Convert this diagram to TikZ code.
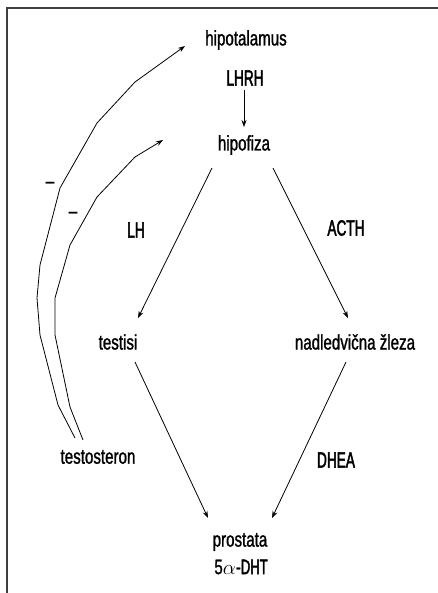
\documentclass[tikz,border=0pt]{standalone}
\usepackage{fontspec}
\setsansfont{Liberation Sans}[FakeStretch=0.72,FakeBold=1.2]
\newfontfamily\narrowsf{Liberation Sans}[FakeStretch=0.62,FakeBold=2]
\usetikzlibrary{arrows.meta}

\begin{document}
\begin{tikzpicture}[x=1pt,y=-1pt,->,>={Stealth[length=7pt,width=5pt]},thick,main node/.style={font=\sffamily\fontsize{21}{24}\selectfont,inner sep=2pt},label node/.style={font=\narrowsf\fontsize{22}{24}\selectfont,inner sep=2pt}]
                \useasboundingbox (0,0) rectangle (438,593);
                \draw[-,line width=1.3pt,black!75] (7,593) -- (7,8) -- (438,8);

                \node[main node] (1) at (246,40) {hipotalamus};
                \node[label node] (lhrh) at (245,78) {LHRH};
                \node[main node] (2) at (244,145) {hipofiza};
                \node[main node] (3) at (118,342) {testisi};
                \node[main node] (4) at (355,342) {nadledvična žleza};
                \node[main node] (5) at (240,542) {prostata};
                \node[main node] (6) at (241,567) {5$\alpha$-{\narrowsf DHT}};
                \node[main node] (7) at (98,457) {testosteron};
                \node[label node] (lh) at (136,230) {LH};
                \node[label node] (acth) at (346,228) {ACTH};
                \node[label node] (dhea) at (336,460) {DHEA};
                \node[main node] (m1) at (50,185) {–};
                \node[main node] (m2) at (73,215) {–};

                \path
                    ([shift={(-1,12)}]lhrh.center) edge ([shift={(0,-18)}]2.center)
                    ([shift={(-32,23)}]2.center) edge ([shift={(20,-24)}]3.center)
                    ([shift={(29,23)}]2.center) edge ([shift={(-7,-24)}]4.center)
                    ([shift={(17,20)}]3.center) edge ([shift={(-32,-24)}]5.center)
                    ([shift={(-9,20)}]4.center) edge ([shift={(32,-24)}]5.center)
                    ;

                % feedback of testosteron
                \draw ([shift={(-23,-19)}]7.center) -- (58,405) -- (40,335) -- (37,298) -- (40,265) -- (60,188) -- (97,123) -- (135,82) -- ([shift={(-61,6)}]1.center);
                \draw ([shift={(-15,-17)}]7.center) -- (70,407) -- (55,335) -- (55,298) -- (70,245) -- (97,197) -- (135,157) -- ([shift={(-81,-5)}]2.center);
            \end{tikzpicture}
\end{document}
